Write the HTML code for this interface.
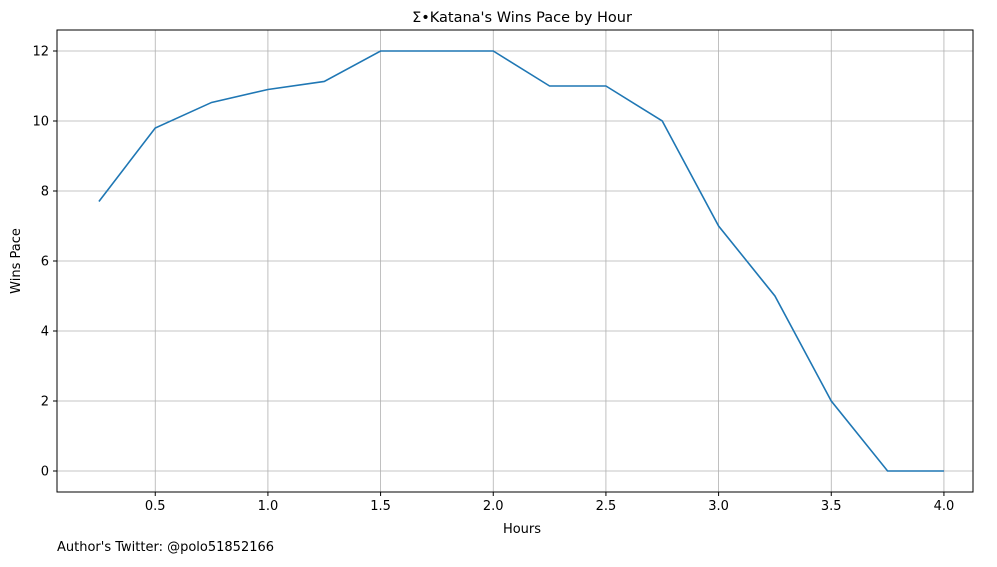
<!DOCTYPE html>
<html><head><meta charset="utf-8"><style>
body{margin:0;background:#fff;font-family:"Liberation Sans","DejaVu Sans",sans-serif;}
svg text{font-family:"DejaVu Sans","Liberation Sans",sans-serif;}
</style></head><body>
<svg id="chart" width="997" height="562" xmlns="http://www.w3.org/2000/svg">
<rect width="997" height="562" fill="#fff"/>
<g id="grid"></g>
<g id="ticks"></g>
<g id="series"></g>
<rect x="57" y="30" width="916" height="462" fill="none" stroke="#000" stroke-width="1"/>
<text x="522" y="22" text-anchor="middle" font-size="14.5">Σ•Katana's Wins Pace by Hour</text>
<text x="522" y="533" text-anchor="middle" font-size="13">Hours</text>
<text transform="translate(20,261) rotate(-90)" text-anchor="middle" font-size="13">Wins Pace</text>
<text x="57" y="551" font-size="13">Author's Twitter: @polo51852166</text>
</svg>
<script>
const hours=[0.25,0.5,0.75,1.0,1.25,1.5,1.75,2.0,2.25,2.5,2.75,3.0,3.25,3.5,3.75,4.0];
const winsPace=[7.7,9.8,10.53,10.9,11.13,12,12,12,11,11,10,7,5,2,0,0];
const xTicks=[0.5,1.0,1.5,2.0,2.5,3.0,3.5,4.0];
const yTicks=[0,2,4,6,8,10,12];
const NS="http://www.w3.org/2000/svg";
const L=57,R=973,T=30,B=492,xmin=0.064,xmax=4.129,ymin=-0.6,ymax=12.6;
const X=v=>L+(v-xmin)/(xmax-xmin)*(R-L);
const Y=v=>B-(v-ymin)/(ymax-ymin)*(B-T);
function mk(tag,attrs,parent){const e=document.createElementNS(NS,tag);for(const k in attrs)e.setAttribute(k,attrs[k]);parent.appendChild(e);return e;}
const g=document.getElementById('grid'),tk=document.getElementById('ticks'),s=document.getElementById('series');
xTicks.forEach(v=>{const x=X(v);
const gl=mk('line',{x1:x,x2:x,y1:T,y2:B,stroke:'#b0b0b0','stroke-width':0.8},g);

mk('line',{x1:x,x2:x,y1:B,y2:B+4,stroke:'#000'},tk);
const t=mk('text',{x:x,y:B+18,'text-anchor':'middle','font-size':13},tk);t.textContent=v.toFixed(1);
});
yTicks.forEach(v=>{const y=Y(v);
const gl=mk('line',{x1:L,x2:R,y1:y,y2:y,stroke:'#b0b0b0','stroke-width':0.8},g);

mk('line',{x1:L-4,x2:L,y1:y,y2:y,stroke:'#000'},tk);
const t=mk('text',{x:L-8,y:y+4.5,'text-anchor':'end','font-size':13},tk);t.textContent=v;
});
const p=mk('polyline',{points:hours.map((h,i)=>X(h)+','+Y(winsPace[i])).join(' '),fill:'none',stroke:'#1f77b4','stroke-width':1.6},s);


</script>
</body></html>
